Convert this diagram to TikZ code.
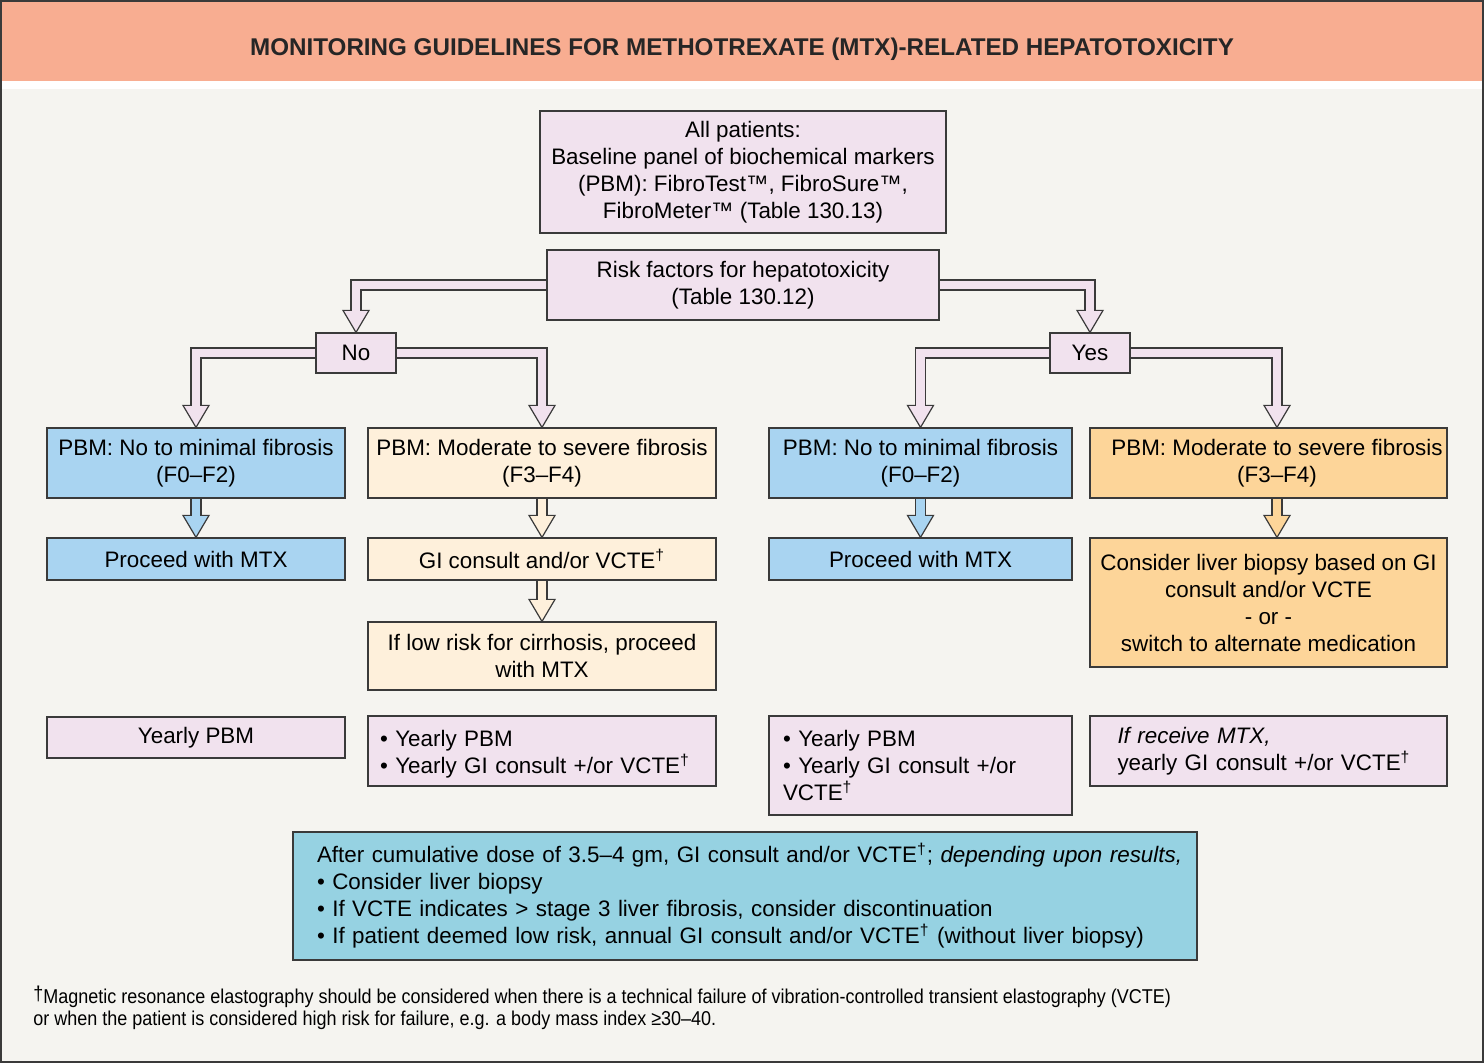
\documentclass[tikz,border=0pt]{standalone}
\usepackage{fontspec}
\setmainfont{Liberation Sans}
\newfontfamily\notefont[FakeStretch=0.9]{Liberation Sans}
\usetikzlibrary{positioning}

\definecolor{headbg}{HTML}{F8AD91}
\definecolor{pagebg}{HTML}{F5F4F0}
\definecolor{edge}{HTML}{3A3A3A}
\definecolor{lav}{HTML}{F1E2EE}
\definecolor{pblue}{HTML}{A9D4F1}
\definecolor{cream}{HTML}{FEF0DB}
\definecolor{orng}{HTML}{FDD599}
\definecolor{teal}{HTML}{96D2E2}

\pgfdeclarelayer{backdrop}
\pgfdeclarelayer{arrows}
\pgfsetlayers{backdrop,arrows,main}

\newcommand{\boxfont}{\fontsize{11.2}{13.5}\selectfont}
\tikzset{
  box/.style={draw=edge, line width=0.6pt, inner sep=0pt, align=center, font=\boxfont},
  listbox/.style={box, align=left},
  lowtext/.style={execute at begin node={\rule{0pt}{11pt}}},
  shaft outer/.style={draw=edge, line width=5.6pt},
  shaft inner/.style={line width=4.4pt},
  headtri/.style={draw=edge, line width=0.6pt, line join=miter},
}

% hollow block arrow: [path op]{fill}{from}{to}
\newcommand{\blockarrow}[4][-|]{%
  \begin{pgfonlayer}{arrows}
    \draw[shaft outer] (#3) #1 ([yshift=11pt]#4);
    \draw[headtri, fill=#2] (#4) -- ++(-6.5pt,11pt) -- ++(13pt,0) -- cycle;
    \draw[shaft inner, draw=#2] (#3) #1 ([yshift=10pt]#4);
  \end{pgfonlayer}}

\begin{document}
\begin{tikzpicture}[x=0.5pt, y=-0.5pt]
  \useasboundingbox (0,0) rectangle (1484,1063);

  % page and header band
  \begin{pgfonlayer}{backdrop}
    \fill[pagebg] (0,0) rectangle (1484,1063);
    \fill[headbg] (0,0) rectangle (1484,81);
    \fill[white] (0,81) rectangle (1484,89);
  \end{pgfonlayer}
  \node[font=\fontsize{12.1}{14}\selectfont\bfseries, text=black!85] (title) at (742,49)
    {MONITORING GUIDELINES FOR METHOTREXATE (MTX)-RELATED HEPATOTOXICITY};

  % top of the chart
  \node[box, fill=lav, minimum width=203pt, minimum height=61pt] (all) at (743,172)
    {All patients:\\Baseline panel of biochemical markers\\(PBM): FibroTest™, FibroSure™,\\FibroMeter™ (Table 130.13)};
  \node[box, lowtext, fill=lav, minimum width=196pt, minimum height=35pt] (risk) at (743,285)
    {Risk factors for hepatotoxicity\\(Table 130.12)};
  \node[box, fill=lav, minimum width=40pt, minimum height=20pt] (no) at (356,353) {No};
  \node[box, fill=lav, minimum width=40pt, minimum height=20pt] (yes) at (1090,353) {Yes};

  % fibrosis grades
  \node[box, lowtext, fill=pblue, minimum width=149pt, minimum height=35pt] (a1) at (196,463)
    {PBM: No to minimal fibrosis\\(F0–F2)};
  \node[box, lowtext, fill=cream, minimum width=174pt, minimum height=35pt] (b1) at (542,463)
    {PBM: Moderate to severe fibrosis\\(F3–F4)};
  \node[box, lowtext, fill=pblue, minimum width=151.5pt, minimum height=35pt] (c1) at (920.5,463)
    {PBM: No to minimal fibrosis\\(F0–F2)};
  \node[box, lowtext, fill=orng, minimum width=178.5pt, minimum height=35pt] (d1) at (1268.5,463)
    {\hspace*{8.5pt}PBM: Moderate to severe fibrosis\\\hspace*{8.5pt}(F3–F4)};

  % what to do next
  \node[box, fill=pblue, minimum width=149pt, minimum height=21pt] (a2) at (196,559) {Proceed with MTX};
  \node[box, fill=cream, minimum width=174pt, minimum height=21pt] (b2) at (542,559)
    {GI consult and/or VCTE\textsuperscript{†}};
  \node[box, fill=pblue, minimum width=151.5pt, minimum height=21pt] (c2) at (920.5,559) {Proceed with MTX};
  \node[box, lowtext, fill=orng, minimum width=178.5pt, minimum height=64.5pt] (d2) at (1268.5,602.5)
    {Consider liver biopsy based on GI\\consult and/or VCTE\\- or -\\switch to alternate medication};
  \node[box, fill=cream, minimum width=174pt, minimum height=34pt] (b3) at (542,656)
    {If low risk for cirrhosis, proceed\\with MTX};

  % yearly follow-up
  \node[box, fill=lav, minimum width=149pt, minimum height=20.5pt] (a4) at (196,737.5) {Yearly PBM};
  \node[listbox, lowtext, fill=lav, minimum width=174pt, minimum height=35pt, text width=162pt] (b4) at (542,751)
    {\textbullet\ Yearly PBM\\\textbullet\ Yearly GI consult +/or VCTE\textsuperscript{†}};
  \node[listbox, fill=lav, minimum width=151.5pt, minimum height=49.5pt, text width=137.5pt] (c4) at (920.5,765.5)
    {\textbullet\ Yearly PBM\\\textbullet\ Yearly GI consult +/or\\VCTE\textsuperscript{†}};
  \node[listbox, fill=lav, minimum width=178.5pt, minimum height=35pt, text width=151pt] (d4) at (1268.5,751)
    {\textit{If receive MTX,}\\yearly GI consult +/or VCTE\textsuperscript{†}};

  % cumulative dose box
  \node[listbox, fill=teal, minimum width=452pt, minimum height=64pt, text width=428pt] (dose) at (745,896)
    {\mbox{After cumulative dose of 3.5–4 gm, GI consult and/or VCTE\textsuperscript{†}; \textit{depending upon results,}}\\
     \textbullet\ Consider liver biopsy\\
     \textbullet\ If VCTE indicates > stage 3 liver fibrosis, consider discontinuation\\
     \textbullet\ If patient deemed low risk, annual GI consult and/or VCTE\textsuperscript{†} (without liver biopsy)};

  % footnote
  \node[anchor=base west, align=left, inner sep=0pt, font=\notefont\fontsize{10}{11}\selectfont] (note) at (33,1025)
    {\raisebox{1.5pt}{†}Magnetic resonance elastography should be considered when there is a technical failure of vibration-controlled transient elastography (VCTE)\\
     or when the patient is considered high risk for failure, e.g. a body mass index ≥30–40.};

  % connectors
  \coordinate (d1top) at ([xshift=4.25pt]d1.north);
  \coordinate (d1bot) at ([xshift=4.25pt]d1.south);
  \coordinate (d2top) at ([xshift=4.25pt]d2.north);
  \blockarrow{lav}{risk.west}{no.north}
  \blockarrow{lav}{risk.east}{yes.north}
  \blockarrow{lav}{no.west}{a1.north}
  \blockarrow{lav}{no.east}{b1.north}
  \blockarrow{lav}{yes.west}{c1.north}
  \blockarrow{lav}{yes.east}{d1top}
  \blockarrow[--]{pblue}{a1.south}{a2.north}
  \blockarrow[--]{cream}{b1.south}{b2.north}
  \blockarrow[--]{cream}{b2.south}{b3.north}
  \blockarrow[--]{pblue}{c1.south}{c2.north}
  \blockarrow[--]{orng}{d1bot}{d2top}

  % frame
  \draw[edge, line width=0.8pt] (0.8,0.8) rectangle (1483.2,1062.2);
\end{tikzpicture}
\end{document}
